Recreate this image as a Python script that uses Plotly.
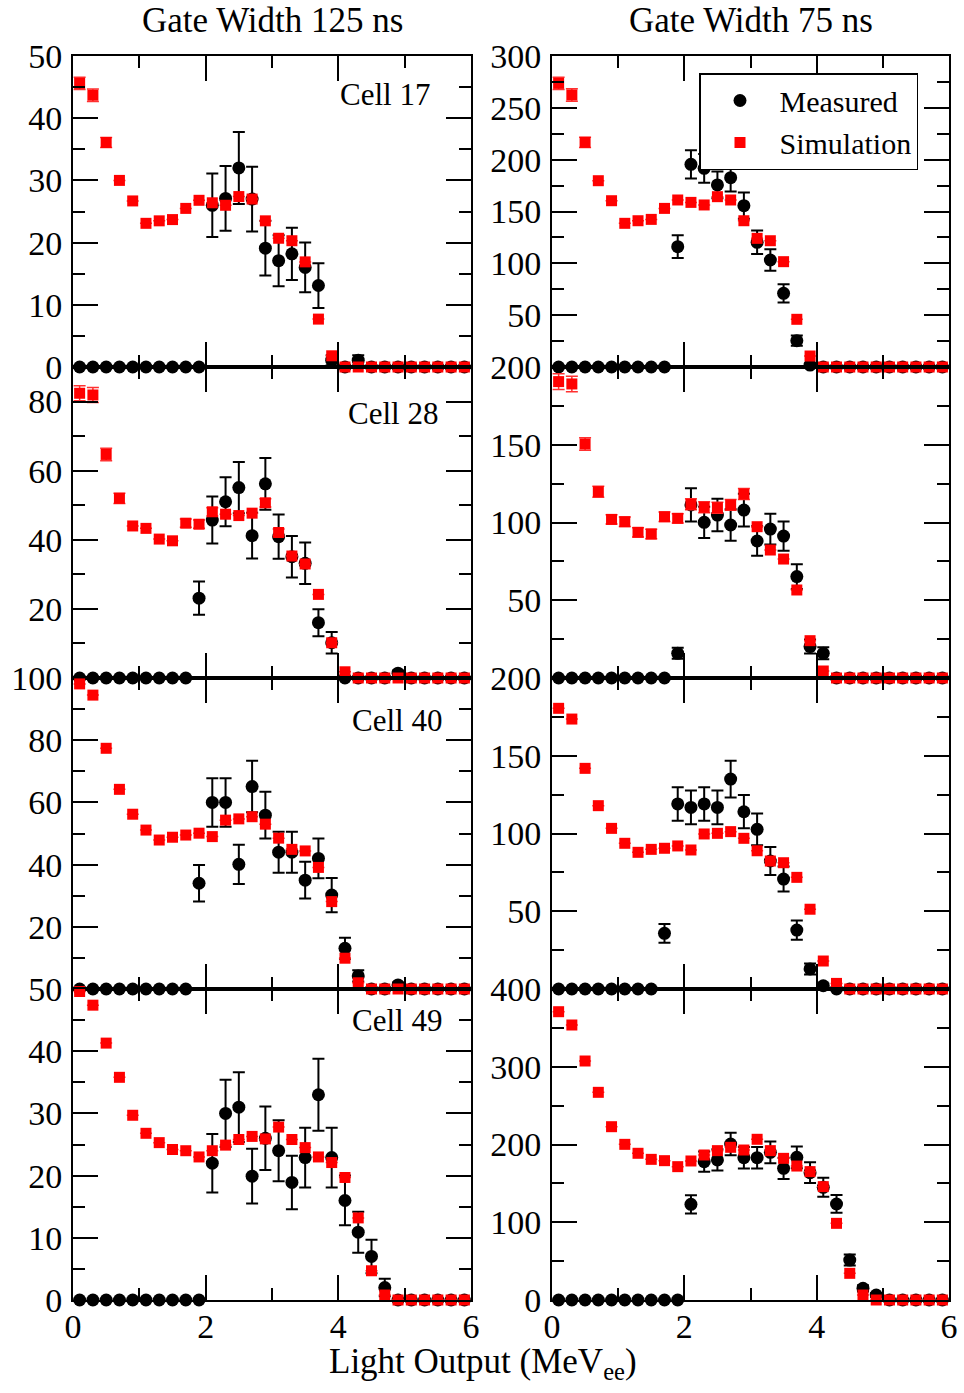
import plotly.graph_objects as go

# ---------------- data ----------------
light_output = [0.1, 0.3, 0.5, 0.7, 0.9, 1.1, 1.3, 1.5, 1.7, 1.9,
                2.1, 2.3, 2.5, 2.7, 2.9, 3.1, 3.3, 3.5, 3.7, 3.9,
                4.1, 4.3, 4.5, 4.7, 4.9, 5.1, 5.3, 5.5, 5.7, 5.9]

column_titles = ["Gate Width 125 ns", "Gate Width 75 ns"]
cell_labels = ["Cell 17", "Cell 28", "Cell 40", "Cell 49"]
x_title = "Light Output (MeV<sub>ee</sub>)"
series_names = ["Measured", "Simulation"]

# Gate width 125 ns
meas_125_c17 = [0, 0, 0, 0, 0, 0, 0, 0, 0, 0,
                26.0, 27.1, 32.0, 27.0, 19.1, 17.1, 18.2, 16.0, 13.1, 1.1,
                0, 1.1, 0, 0, 0, 0, 0, 0, 0, 0]
merr_125_c17 = [0, 0, 0, 0, 0, 0, 0, 0, 0, 0,
                5.1, 5.2, 5.8, 5.2, 4.4, 4.1, 4.2, 4.0, 3.6, 0.8,
                0, 0.8, 0, 0, 0, 0, 0, 0, 0, 0]
sim_125_c17 = [45.6, 43.7, 36.1, 30.0, 26.7, 23.1, 23.5, 23.7, 25.5, 26.8,
               26.4, 26.0, 27.4, 27.0, 23.5, 20.7, 20.3, 16.9, 7.7, 1.8,
               0, 0, 0, 0, 0, 0, 0, 0, 0, 0]
serr_125_c17 = [1.0, 1.0, 0.8, 0, 0, 0, 0, 0, 0, 0,
                0, 0, 0, 0, 0, 0, 0, 0, 0, 0,
                0, 0, 0, 0, 0, 0, 0, 0, 0, 0]

meas_125_c28 = [0, 0, 0, 0, 0, 0, 0, 0, 0, 23.1,
                45.7, 51.0, 55.1, 41.2, 56.2, 40.9, 35.1, 33.2, 16.0, 10.2,
                0, 0, 0, 0, 1.4, 0, 0, 0, 0, 0]
merr_125_c28 = [0, 0, 0, 0, 0, 0, 0, 0, 0, 4.8,
                6.8, 7.1, 7.4, 6.6, 7.5, 6.4, 6.0, 6.0, 3.9, 3.1,
                0, 0, 0, 0, 0.8, 0, 0, 0, 0, 0]
sim_125_c28 = [82.4, 81.9, 64.7, 52.0, 44.0, 43.3, 40.2, 39.7, 44.8, 44.5,
               48.1, 47.4, 47.0, 47.7, 50.7, 42.1, 35.3, 33.0, 24.2, 10.2,
               1.8, 0, 0, 0, 0, 0, 0, 0, 0, 0]
serr_125_c28 = [2.2, 2.2, 1.8, 1.5, 0, 0, 0, 0, 1.2, 1.2,
                1.2, 0, 0, 0, 1.2, 1.0, 0, 0, 0, 0,
                0, 0, 0, 0, 0, 0, 0, 0, 0, 0]

meas_125_c40 = [0, 0, 0, 0, 0, 0, 0, 0, 0, 34.0,
                60.0, 60.0, 40.1, 65.1, 55.9, 44.0, 44.0, 35.0, 42.0, 30.2,
                13.1, 4.2, 0, 0, 1.3, 0, 0, 0, 0, 0]
merr_125_c40 = [0, 0, 0, 0, 0, 0, 0, 0, 0, 5.9,
                7.8, 7.8, 6.3, 8.3, 7.5, 6.6, 6.6, 5.9, 6.4, 5.5,
                3.4, 1.8, 0, 0, 0.8, 0, 0, 0, 0, 0]
sim_125_c40 = [98.1, 94.5, 77.4, 64.2, 56.2, 51.1, 47.9, 48.8, 49.5, 50.1,
               49.0, 54.3, 54.7, 55.4, 53.0, 48.5, 44.9, 44.4, 39.1, 28.1,
               9.9, 2.0, 0, 0, 0, 0, 0, 0, 0, 0]
serr_125_c40 = [0, 0, 0, 0, 0, 0, 0, 0, 0, 0,
                0, 0, 0, 0, 0, 0, 0, 0, 0, 0,
                0, 0, 0, 0, 0, 0, 0, 0, 0, 0]

meas_125_c49 = [0, 0, 0, 0, 0, 0, 0, 0, 0, 0,
                22.0, 30.0, 31.0, 19.9, 26.0, 24.0, 18.9, 22.9, 33.0, 22.9,
                16.0, 10.9, 7.0, 2.0, 0, 0, 0, 0, 0, 0]
merr_125_c49 = [0, 0, 0, 0, 0, 0, 0, 0, 0, 0,
                4.7, 5.4, 5.6, 4.4, 5.1, 4.9, 4.3, 4.8, 5.8, 4.8,
                4.0, 3.3, 2.7, 1.4, 0, 0, 0, 0, 0, 0]
sim_125_c49 = [49.6, 47.4, 41.3, 35.8, 29.7, 26.8, 25.3, 24.2, 24.0, 23.0,
               24.0, 24.9, 25.8, 26.3, 25.9, 27.8, 25.8, 24.5, 23.0, 22.1,
               19.7, 13.2, 4.7, 0.8, 0, 0, 0, 0, 0, 0]
serr_125_c49 = [0, 0, 0, 0, 0, 0, 0, 0, 0, 0,
                0, 0, 0, 0, 0, 0, 0, 0, 0, 0,
                0, 0, 0, 0, 0, 0, 0, 0, 0, 0]

# Gate width 75 ns
meas_75_c17 = [0, 0, 0, 0, 0, 0, 0, 0, 0, 116.1,
               195.5, 191.6, 175.6, 182.6, 155.6, 120.3, 103.2, 71.1, 25.4, 1.9,
               0, 0, 0, 0, 0, 0, 0, 0, 0, 0]
merr_75_c17 = [0, 0, 0, 0, 0, 0, 0, 0, 0, 10.9,
               13.7, 13.8, 12.9, 13.3, 12.7, 11.3, 10.3, 8.8, 5.0, 1.4,
               0, 0, 0, 0, 0, 0, 0, 0, 0, 0]
sim_75_c17 = [273.6, 262.4, 216.7, 179.7, 160.4, 138.6, 141.1, 142.4, 153.0, 161.1,
              158.8, 156.3, 164.3, 161.1, 141.1, 124.1, 121.8, 101.6, 46.0, 10.6,
              0, 0, 0, 0, 0, 0, 0, 0, 0, 0]
serr_75_c17 = [6.0, 6.0, 5.0, 0, 0, 0, 0, 0, 0, 0,
               0, 0, 0, 0, 0, 0, 0, 0, 0, 0,
               0, 0, 0, 0, 0, 0, 0, 0, 0, 0]

meas_75_c28 = [0, 0, 0, 0, 0, 0, 0, 0, 0, 15.9,
               111.3, 100.1, 104.8, 98.4, 108.0, 88.1, 95.8, 91.3, 65.2, 20.2,
               15.9, 0, 0, 0, 0, 0, 0, 0, 0, 0]
merr_75_c28 = [0, 0, 0, 0, 0, 0, 0, 0, 0, 3.5,
               10.7, 10.0, 10.4, 10.1, 10.5, 9.5, 9.9, 9.4, 7.9, 4.5,
               3.9, 0, 0, 0, 0, 0, 0, 0, 0, 0]
sim_75_c28 = [190.6, 189.1, 150.5, 119.8, 102.0, 100.5, 93.7, 92.6, 103.7, 102.7,
              111.7, 109.8, 109.5, 111.3, 118.3, 97.3, 82.3, 76.5, 56.6, 24.0,
              4.5, 0, 0, 0, 0, 0, 0, 0, 0, 0]
serr_75_c28 = [5.0, 5.0, 4.0, 3.5, 3.0, 3.0, 3.0, 3.0, 3.0, 3.0,
               3.5, 3.5, 3.5, 3.5, 3.5, 0, 0, 0, 0, 0,
               0, 0, 0, 0, 0, 0, 0, 0, 0, 0]

meas_75_c40 = [0, 0, 0, 0, 0, 0, 0, 0, 35.8, 119.0,
               116.8, 119.0, 116.8, 135.0, 114.0, 102.7, 82.3, 70.7, 37.9, 12.9,
               2.1, 0, 0, 0, 0, 0, 0, 0, 0, 0]
merr_75_c40 = [0, 0, 0, 0, 0, 0, 0, 0, 6.0, 10.8,
               10.9, 10.8, 10.9, 11.8, 10.7, 10.2, 9.0, 8.0, 6.2, 3.5,
               1.5, 0, 0, 0, 0, 0, 0, 0, 0, 0]
sim_75_c40 = [180.5, 173.6, 141.9, 117.9, 103.3, 93.7, 87.9, 89.8, 90.5, 92.0,
              89.4, 99.7, 100.1, 101.2, 96.9, 88.9, 82.3, 81.2, 71.8, 51.3,
              18.0, 3.6, 0, 0, 0, 0, 0, 0, 0, 0]
serr_75_c40 = [0, 0, 0, 0, 0, 0, 0, 0, 0, 0,
               0, 0, 0, 0, 0, 0, 0, 0, 0, 0,
               0, 0, 0, 0, 0, 0, 0, 0, 0, 0]

meas_75_c49 = [0, 0, 0, 0, 0, 0, 0, 0, 0, 0,
               123.0, 177.9, 180.1, 200.6, 183.0, 183.0, 189.9, 169.3, 183.5, 163.8,
               144.9, 123.5, 51.4, 15.0, 6.4, 0, 0, 0, 0, 0]
merr_75_c49 = [0, 0, 0, 0, 0, 0, 0, 0, 0, 0,
               11.8, 13.1, 13.7, 14.4, 13.9, 13.9, 13.9, 13.7, 13.9, 13.3,
               12.2, 11.4, 7.0, 4.0, 2.5, 0, 0, 0, 0, 0]
sim_75_c49 = [370.8, 353.7, 307.4, 267.1, 222.9, 200.2, 188.7, 180.9, 179.2, 171.5,
              178.8, 186.5, 192.1, 196.4, 192.9, 206.7, 192.1, 182.2, 172.3, 165.1,
              145.8, 98.6, 34.3, 6.4, 0, 0, 0, 0, 0, 0]
serr_75_c49 = [0, 0, 0, 0, 0, 0, 0, 0, 0, 0,
               0, 0, 0, 0, 0, 0, 0, 0, 0, 0,
               0, 0, 0, 0, 0, 0, 0, 0, 0, 0]

# axis ranges and tick labels per panel (row-major: left, right)
y_ranges = [[0, 50], [0, 300],
            [0, 90], [0, 200],
            [0, 100], [0, 200],
            [0, 50], [0, 400]]
y_tickvals = [[0, 10, 20, 30, 40, 50], [50, 100, 150, 200, 250, 300],
              [20, 40, 60, 80], [50, 100, 150, 200],
              [20, 40, 60, 80, 100], [50, 100, 150, 200],
              [0, 10, 20, 30, 40, 50], [0, 100, 200, 300, 400]]
y_ticktext = [["0", "10", "20", "30", "40", "50"], ["50", "100", "150", "200", "250", "300"],
              ["20", "40", "60", "80"], ["50", "100", "150", "200"],
              ["20", "40", "60", "80", "100"], ["50", "100", "150", "200"],
              ["0", "10", "20", "30", "40", "50"], ["0", "100", "200", "300", "400"]]
y_minor = [5, 25, 10, 25, 10, 25, 5, 50]
x_tickvals = [0, 2, 4, 6]
x_ticktext = ["0", "2", "4", "6"]

panels = [
    (meas_125_c17, merr_125_c17, sim_125_c17, serr_125_c17),
    (meas_75_c17, merr_75_c17, sim_75_c17, serr_75_c17),
    (meas_125_c28, merr_125_c28, sim_125_c28, serr_125_c28),
    (meas_75_c28, merr_75_c28, sim_75_c28, serr_75_c28),
    (meas_125_c40, merr_125_c40, sim_125_c40, serr_125_c40),
    (meas_75_c40, merr_75_c40, sim_75_c40, serr_75_c40),
    (meas_125_c49, merr_125_c49, sim_125_c49, serr_125_c49),
    (meas_75_c49, merr_75_c49, sim_75_c49, serr_75_c49),
]

# ---------------- layout geometry ----------------
W, H = 964, 1393
col_px = [(73, 471), (552, 949)]
row_px = [(56, 367), (367, 678), (678, 989), (989, 1300)]

FONT = "Liberation Serif, Times New Roman, serif"

fig = go.Figure()
layout = dict(
    template="none",
    width=W, height=H, autosize=False,
    margin=dict(l=0, r=0, t=0, b=0, pad=0, autoexpand=False),
    paper_bgcolor="white", plot_bgcolor="white",
    font=dict(family=FONT, size=34, color="black"),
    showlegend=True,
    legend=dict(
        x=699 / W, y=1 - 73 / H, xanchor="left", yanchor="top",
        bgcolor="white", bordercolor="black", borderwidth=1.5,
        font=dict(family=FONT, size=30, color="black"),
        itemwidth=69, tracegroupgap=0,
    ),
)

for i, (meas, merr, sim, serr) in enumerate(panels):
    r, c = divmod(i, 2)
    n = i + 1
    xa = "x" if n == 1 else f"x{n}"
    ya = "y" if n == 1 else f"y{n}"
    fig.add_trace(go.Scatter(
        x=light_output, y=meas, xaxis=xa, yaxis=ya, mode="markers",
        name=series_names[0], showlegend=(i == 1), legendgroup="m",
        marker=dict(symbol="circle", size=13, color="black", line=dict(width=0)),
        error_y=dict(type="data", array=merr, visible=True, color="black",
                     thickness=2, width=6),
        cliponaxis=False,
    ))
    fig.add_trace(go.Scatter(
        x=light_output, y=sim, xaxis=xa, yaxis=ya, mode="markers",
        name=series_names[1], showlegend=(i == 1), legendgroup="s",
        marker=dict(symbol="square", size=11, color="#ff0000", line=dict(width=0)),
        error_y=dict(type="data", array=serr, visible=True, color="#ff3030",
                     thickness=1.5, width=6),
        cliponaxis=False,
    ))
    x0, x1 = col_px[c]
    y0, y1 = row_px[r]
    common = dict(
        showline=True, linecolor="black", linewidth=2, mirror="ticks",
        ticks="inside", ticklen=25, tickwidth=2, tickcolor="black",
        showgrid=False, zeroline=False, automargin=False,
        tickfont=dict(family=FONT, size=34, color="black"),
    )
    layout["xaxis" if n == 1 else f"xaxis{n}"] = dict(
        common, domain=[x0 / W, x1 / W], range=[0, 6],
        anchor=ya, tickmode="array", tickvals=x_tickvals, ticktext=x_ticktext,
        showticklabels=(r == 3), ticklabelstandoff=-5,
        minor=dict(ticks="inside", ticklen=12, tickwidth=2, tickcolor="black",
                   dtick=1, tick0=0, showgrid=False),
    )
    layout["yaxis" if n == 1 else f"yaxis{n}"] = dict(
        common, domain=[1 - y1 / H, 1 - y0 / H], range=y_ranges[i],
        anchor=xa, tickmode="array", tickvals=y_tickvals[i], ticktext=y_ticktext[i],
        ticklabelstandoff=2,
        minor=dict(ticks="inside", ticklen=12, tickwidth=2, tickcolor="black",
                   dtick=y_minor[i], tick0=0, showgrid=False),
    )

annotations = []
for c, t in enumerate(column_titles):
    x0, x1 = col_px[c]
    annotations.append(dict(text=t, x=(x0 + x1) / 2 / W, y=1 - 21 / H,
                            xref="paper", yref="paper", xanchor="center", yanchor="middle",
                            showarrow=False, font=dict(family=FONT, size=35, color="black")))
cell_pos = [(432, 95), (440, 413), (444, 720), (444, 1020)]
for lab, (px, py) in zip(cell_labels, cell_pos):
    annotations.append(dict(text=lab, x=px / W, y=1 - py / H, xref="paper", yref="paper",
                            xanchor="right", yanchor="middle", showarrow=False,
                            font=dict(family=FONT, size=31, color="black")))
annotations.append(dict(text=x_title, x=483 / W, y=1 - 1363 / H, xref="paper", yref="paper",
                        xanchor="center", yanchor="middle", showarrow=False,
                        font=dict(family=FONT, size=35, color="black")))
layout["annotations"] = annotations

fig.update_layout(**layout)
fig.write_html("out.html",
               config={"displayModeBar": False},
               post_script="document.body.style.margin='0px';document.body.style.padding='0px';")
